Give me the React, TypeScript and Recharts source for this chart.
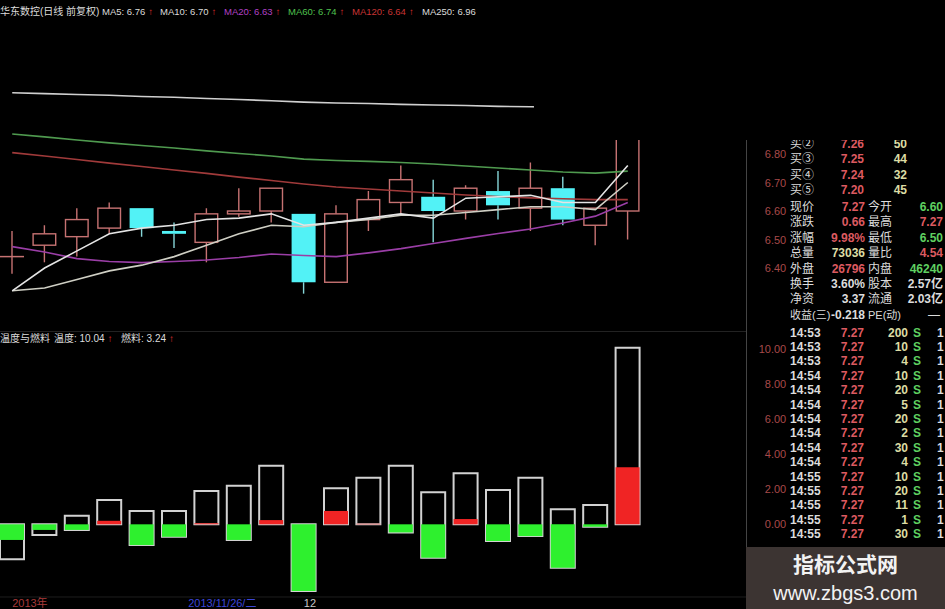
import React from 'react';
import { ComposedChart, Bar, Line, XAxis, YAxis, Cell } from 'recharts';

// ---- daily bars (华东数控, 日线 前复权) ----
const dates = [
  '2013-11-19', '2013-11-20', '2013-11-21', '2013-11-22', '2013-11-25',
  '2013-11-26', '2013-11-27', '2013-11-28', '2013-11-29', '2013-12-02',
  '2013-12-03', '2013-12-04', '2013-12-05', '2013-12-06', '2013-12-09',
  '2013-12-10', '2013-12-11', '2013-12-12', '2013-12-13', '2013-12-16',
];
// empty trading slots kept at the right edge of the chart
const spareDates = ['2013-12-17', '2013-12-18', '2013-12-19'];

const opens = [6.44, 6.48, 6.51, 6.54, 6.61, 6.53, 6.49, 6.59, 6.60, 6.59, 6.35, 6.57, 6.63, 6.65, 6.60, 6.67, 6.61, 6.68, 6.55, 6.60];
const highs = [6.53, 6.55, 6.61, 6.63, 6.61, 6.56, 6.61, 6.68, 6.68, 6.59, 6.62, 6.67, 6.76, 6.71, 6.69, 6.74, 6.77, 6.72, 6.61, 7.27];
const lows = [6.38, 6.42, 6.44, 6.52, 6.51, 6.47, 6.42, 6.58, 6.56, 6.31, 6.35, 6.53, 6.59, 6.49, 6.57, 6.57, 6.53, 6.55, 6.48, 6.50];
const closes = [6.44, 6.52, 6.57, 6.61, 6.54, 6.52, 6.59, 6.60, 6.68, 6.35, 6.59, 6.64, 6.71, 6.60, 6.68, 6.62, 6.68, 6.57, 6.61, 7.27];

const ma5 = [6.32, 6.40, 6.46, 6.52, 6.54, 6.55, 6.57, 6.575, 6.59, 6.55, 6.56, 6.575, 6.59, 6.575, 6.645, 6.65, 6.655, 6.63, 6.63, 6.76];
const ma10 = [6.32, 6.33, 6.36, 6.39, 6.41, 6.44, 6.48, 6.52, 6.55, 6.545, 6.56, 6.57, 6.585, 6.585, 6.595, 6.605, 6.615, 6.615, 6.605, 6.70];
const ma20 = [6.475, 6.456, 6.433, 6.423, 6.419, 6.423, 6.428, 6.437, 6.449, 6.444, 6.44, 6.453, 6.468, 6.486, 6.504, 6.521, 6.537, 6.558, 6.582, 6.63];
const ma60 = [6.87, 6.86, 6.849, 6.839, 6.83, 6.821, 6.811, 6.802, 6.793, 6.782, 6.777, 6.774, 6.77, 6.765, 6.758, 6.751, 6.744, 6.737, 6.733, 6.74];
const ma120 = [6.805, 6.793, 6.781, 6.768, 6.756, 6.744, 6.732, 6.719, 6.707, 6.695, 6.684, 6.677, 6.67, 6.663, 6.656, 6.651, 6.646, 6.643, 6.64, 6.64];
const ma250 = [7.015, 7.012, 7.009, 7.006, 7.002, 6.999, 6.995, 6.991, 6.987, 6.982, 6.979, 6.977, 6.974, 6.972, 6.97, 6.967, 6.966, 6.964, 6.962, 6.96];

// ---- 温度与燃料 indicator ----
const temperature = [-1.99, -0.61, 0.49, 1.38, 0.76, 0.76, 1.89, 2.2, 3.33, -3.79, 2.05, 2.65, 3.33, 1.82, 2.9, 1.95, 2.65, 0.85, 1.1, 10.04];
const fuel = [-0.89, -0.32, -0.32, 0.2, -1.18, -0.71, 0.06, -0.89, 0.24, -3.79, 0.76, 0.03, -0.46, -1.9, 0.3, -0.95, -0.67, -2.47, -0.14, 3.24];

const priceTicks = [6.4, 6.5, 6.6, 6.7, 6.8];
const indicatorTicks = [0, 2, 4, 6, 8, 10];
const axisLabelDates = ['2013-11-19', '2013-11-26', '2013-12-02'];
const axisLabelTexts = ['2013年', '2013/11/26/二', '12'];

// ---- quote panel ----
const bidLabels = ['买②', '买③', '买④', '买⑤'];
const bidPrices = ['7.26', '7.25', '7.24', '7.20'];
const bidVolumes = ['50', '44', '32', '45'];
const quoteLeftLabels = ['现价', '涨跌', '涨幅', '总量', '外盘', '换手', '净资'];
const quoteLeftValues = ['7.27', '0.66', '9.98%', '73036', '26796', '3.60%', '3.37'];
const quoteRightLabels = ['今开', '最高', '最低', '量比', '内盘', '股本', '流通'];
const quoteRightValues = ['6.60', '7.27', '6.50', '4.54', '46240', '2.57亿', '2.03亿'];
const epsRow = ['收益(三)', '-0.218', 'PE(动)', '—'];
const tradeTimes = ['14:53', '14:53', '14:53', '14:54', '14:54', '14:54', '14:54', '14:54', '14:54', '14:54', '14:55', '14:55', '14:55', '14:55', '14:55'];
const tradePrices = ['7.27', '7.27', '7.27', '7.27', '7.27', '7.27', '7.27', '7.27', '7.27', '7.27', '7.27', '7.27', '7.27', '7.27', '7.27'];
const tradeVolumes = ['200', '10', '4', '10', '20', '5', '20', '2', '30', '4', '10', '20', '11', '1', '30'];
const tradeSides = ['S', 'S', 'S', 'S', 'S', 'S', 'S', 'S', 'S', 'S', 'S', 'S', 'S', 'S', 'S'];
const tradeCounts = ['1', '1', '1', '1', '1', '1', '1', '1', '1', '1', '1', '1', '1', '1', '1'];

// ---- styling ----
const FONT = '"Liberation Sans", "Noto Sans CJK SC", sans-serif';
const UP = '#c67272';
const DOWN = '#52f2f6';
const DOWN_WICK = '#86d6d8';
const AXIS_RED = '#a84a4a';
const RED = '#dc5a60';
const GREEN = '#5fd060';
const PALE = '#dcdca4';
const WHITE = '#dcdcdc';

const SHIFT = 4.2; // plot area starts slightly left of the page edge
const CHART_W = 801.2;
const AXIS_TEXT_X = 786 + SHIFT;

const kData = [
  ...dates.map((d, i) => ({
    date: d, o: opens[i], h: highs[i], l: lows[i], c: closes[i],
    ma5: ma5[i], ma10: ma10[i], ma20: ma20[i], ma60: ma60[i], ma120: ma120[i], ma250: ma250[i],
  })),
  ...spareDates.map((d) => ({ date: d })),
];

const indData = [
  ...dates.map((d, i) => ({ date: d, t: temperature[i], f: fuel[i] })),
  ...spareDates.map((d) => ({ date: d })),
];

const candleRange = (d: any) => (d.o == null ? null : [d.l, d.h]);
const outlineRange = (d: any) =>
  d.t == null ? null : [Math.min(0, d.t, d.f), Math.max(0, d.t)];

function Candle(props: any) {
  const { x, y, width, height, payload } = props;
  if (!payload || payload.o == null) return null;
  const { o, h, l, c } = payload;
  const top = Math.min(y, y + height);
  const bottom = Math.max(y, y + height);
  const pix = (v: number) => top + ((h - v) / (h - l)) * (bottom - top);
  const cx = x + width / 2;
  const up = c >= o;
  const bTop = pix(Math.max(o, c));
  const bBot = pix(Math.min(o, c));
  const col = up ? UP : DOWN;
  const wick = up ? UP : DOWN_WICK;
  return (
    <g>
      {bTop - top > 0.5 && <line x1={cx} x2={cx} y1={top} y2={bTop} stroke={wick} strokeWidth={1.4} />}
      {bottom - bBot > 0.5 && <line x1={cx} x2={cx} y1={bBot} y2={bottom} stroke={wick} strokeWidth={1.4} />}
      {bBot - bTop < 1.5 ? (
        <line x1={x} x2={x + width} y1={bTop} y2={bTop} stroke={col} strokeWidth={up ? 1.5 : 3} />
      ) : up ? (
        <rect x={x + 0.7} y={bTop} width={width - 1.4} height={bBot - bTop} fill="none" stroke={col} strokeWidth={1.4} />
      ) : (
        <rect x={x} y={bTop} width={width} height={bBot - bTop} fill={DOWN} />
      )}
    </g>
  );
}

const PriceTick = (props: any) => (
  <text x={AXIS_TEXT_X} y={props.y} textAnchor="end" dominantBaseline="central"
    fill={AXIS_RED} fontSize={11} fontFamily={FONT}>
    {Number(props.payload.value).toFixed(2)}
  </text>
);

const DateTick = (props: any) => {
  const k = axisLabelDates.indexOf(props.payload.value);
  if (k < 0) return null;
  const isCursor = k === 1;
  const color = k === 0 ? '#a83a3a' : isCursor ? '#3c46d8' : '#c8c8c8';
  return (
    <text x={props.x + (isCursor ? 14 : 0)} y={props.y - 2} textAnchor="start" dominantBaseline="central"
      fill={color} fontSize={11} fontFamily={FONT}>
      {axisLabelTexts[k]}
    </text>
  );
};

function T(p: { x: number; y: number; color: string; size?: number; bold?: boolean; right?: boolean; children: any }) {
  const style: any = {
    position: 'absolute', top: p.y, transform: 'translateY(-50%)', color: p.color,
    fontSize: p.size ?? 12, fontWeight: p.bold ? 700 : 400, lineHeight: 1,
    whiteSpace: 'nowrap', fontFamily: FONT,
  };
  if (p.right) style.right = 945 - p.x; else style.left = p.x;
  return <div style={style}>{p.children}</div>;
}

const last = (a: number[]) => a[a.length - 1].toFixed(2);
const Up = () => <span style={{ color: '#e03030', marginLeft: 3 }}>↑</span>;

const quoteLeftColors = [RED, RED, RED, PALE, RED, WHITE, WHITE];
const quoteRightColors = [GREEN, RED, GREEN, RED, GREEN, WHITE, WHITE];

export default function App() {
  return (
    <div style={{ position: 'absolute', left: 0, top: 0, width: 945, height: 609, background: '#000', overflow: 'hidden' }}>
      {/* candlestick pane */}
      <div style={{ position: 'absolute', left: -SHIFT, top: 20 }}>
        <ComposedChart width={CHART_W} height={310} data={kData} margin={{ top: 0, right: 0, bottom: 0, left: 0 }}>
          <XAxis dataKey="date" hide padding={{ left: 0, right: 6 }} />
          <YAxis orientation="right" width={50} domain={[6.1825, 7.2702]} allowDataOverflow
            ticks={priceTicks} tick={PriceTick} axisLine={false} tickLine={false} />
          <Bar dataKey={candleRange} barSize={24} shape={Candle} isAnimationActive={false} />
          <Line dataKey="ma250" stroke="#cfcfcf" strokeWidth={1.6} dot={false} isAnimationActive={false} />
          <Line dataKey="ma60" stroke="#4f9a4f" strokeWidth={1.6} dot={false} isAnimationActive={false} />
          <Line dataKey="ma120" stroke="#a03a3a" strokeWidth={1.6} dot={false} isAnimationActive={false} />
          <Line dataKey="ma20" stroke="#9a3ea6" strokeWidth={1.6} dot={false} isAnimationActive={false} />
          <Line dataKey="ma10" stroke="#cfcfc4" strokeWidth={1.6} dot={false} isAnimationActive={false} />
          <Line dataKey="ma5" stroke="#e4e4e4" strokeWidth={1.6} dot={false} isAnimationActive={false} />
        </ComposedChart>
      </div>

      {/* 温度与燃料 pane */}
      <div style={{ position: 'absolute', left: -SHIFT, top: 332 }}>
        <ComposedChart width={CHART_W} height={277} data={indData} margin={{ top: 0, right: 0, bottom: 0, left: 0 }}>
          <XAxis xAxisId="main" dataKey="date" height={12} padding={{ left: 0, right: 6 }}
            ticks={axisLabelDates} interval={0} tick={DateTick} axisLine={{ stroke: '#1e1e1e' }} tickLine={false} />
          <XAxis xAxisId="over" dataKey="date" hide padding={{ left: 0, right: 6 }} />
          <YAxis orientation="right" width={50} domain={[-4.135, 10.94]} allowDataOverflow
            ticks={indicatorTicks} tick={PriceTick} axisLine={false} tickLine={false} />
          <Bar xAxisId="main" dataKey={outlineRange} barSize={24} fill="none" stroke="#d2d2d2" strokeWidth={2} isAnimationActive={false} />
          <Bar xAxisId="over" dataKey="f" barSize={24} isAnimationActive={false}>
            {indData.map((d: any, i) => (
              <Cell key={i} fill={d.f > 0 ? '#f02424' : '#2ef02e'} />
            ))}
          </Bar>
        </ComposedChart>
      </div>

      {/* pane titles */}
      <T x={0} y={12} color={WHITE} size={10}>华东数控(日线 前复权)</T>
      <T x={102} y={12} color={WHITE} size={9.5}>MA5: {last(ma5)}<Up /></T>
      <T x={160} y={12} color={WHITE} size={9.5}>MA10: {last(ma10)}<Up /></T>
      <T x={224} y={12} color="#b040c4" size={9.5}>MA20: {last(ma20)}<Up /></T>
      <T x={288} y={12} color="#4fc04f" size={9.5}>MA60: {last(ma60)}<Up /></T>
      <T x={352} y={12} color="#c83434" size={9.5}>MA120: {last(ma120)}<Up /></T>
      <T x={422} y={12} color={WHITE} size={9.5}>MA250: {last(ma250)}</T>

      <T x={0} y={339} color={WHITE} size={10}>温度与燃料</T>
      <T x={54} y={339} color={WHITE} size={10}>温度: {temperature[temperature.length - 1].toFixed(2)}<Up /></T>
      <T x={121} y={339} color={WHITE} size={10}>燃料: {fuel[fuel.length - 1].toFixed(2)}<Up /></T>

      {/* separators */}
      <div style={{ position: 'absolute', left: 746, top: 0, width: 1, height: 609, background: '#444' }} />
      <div style={{ position: 'absolute', left: 0, top: 331, width: 746, height: 1, background: '#222' }} />

      {/* bid levels */}
      {bidLabels.map((lab, i) => {
        const y = 144 + i * 15.3;
        return (
          <React.Fragment key={lab}>
            <T x={790} y={y} color={WHITE}>{lab}</T>
            <T x={864} y={y} color={RED} bold right>{bidPrices[i]}</T>
            <T x={907} y={y} color={PALE} bold right>{bidVolumes[i]}</T>
          </React.Fragment>
        );
      })}

      {/* quote fields */}
      {quoteLeftLabels.map((lab, i) => {
        const y = 207 + i * 15.4;
        return (
          <React.Fragment key={lab}>
            <T x={790} y={y} color={WHITE}>{lab}</T>
            <T x={865} y={y} color={quoteLeftColors[i]} bold right>{quoteLeftValues[i]}</T>
            <T x={868} y={y} color={WHITE}>{quoteRightLabels[i]}</T>
            <T x={943} y={y} color={quoteRightColors[i]} bold right>{quoteRightValues[i]}</T>
          </React.Fragment>
        );
      })}
      <T x={790} y={315} color={WHITE} size={11}>{epsRow[0]}</T>
      <T x={865} y={315} color={WHITE} bold right>{epsRow[1]}</T>
      <T x={868} y={315} color={WHITE} size={11}>{epsRow[2]}</T>
      <T x={928} y={315} color={WHITE}>{epsRow[3]}</T>

      {/* tick-by-tick trades */}
      {tradeTimes.map((tm, i) => {
        const y = 332.5 + i * 14.4;
        return (
          <React.Fragment key={i}>
            <T x={790} y={y} color={WHITE} bold>{tm}</T>
            <T x={864} y={y} color={RED} bold right>{tradePrices[i]}</T>
            <T x={908} y={y} color={PALE} bold right>{tradeVolumes[i]}</T>
            <T x={913} y={y} color={GREEN} bold>{tradeSides[i]}</T>
            <T x={937} y={y} color={WHITE} bold>{tradeCounts[i]}</T>
          </React.Fragment>
        );
      })}

      {/* masked upper-right corner */}
      <div style={{ position: 'absolute', left: 534, top: 0, width: 411, height: 140, background: '#000' }} />

      {/* site badge */}
      <div style={{ position: 'absolute', left: 746, top: 547, width: 199, height: 62, background: '#3c3432' }}>
        <div style={{ position: 'absolute', left: 0, width: 199, top: 7, textAlign: 'center', color: '#f2f2f2', fontSize: 21, fontWeight: 700, fontFamily: FONT, lineHeight: 1 }}>指标公式网</div>
        <div style={{ position: 'absolute', left: 0, width: 199, top: 36, textAlign: 'center', color: '#f2f2f2', fontSize: 20, fontFamily: FONT, lineHeight: 1 }}>www.zbgs3.com</div>
      </div>
    </div>
  );
}
